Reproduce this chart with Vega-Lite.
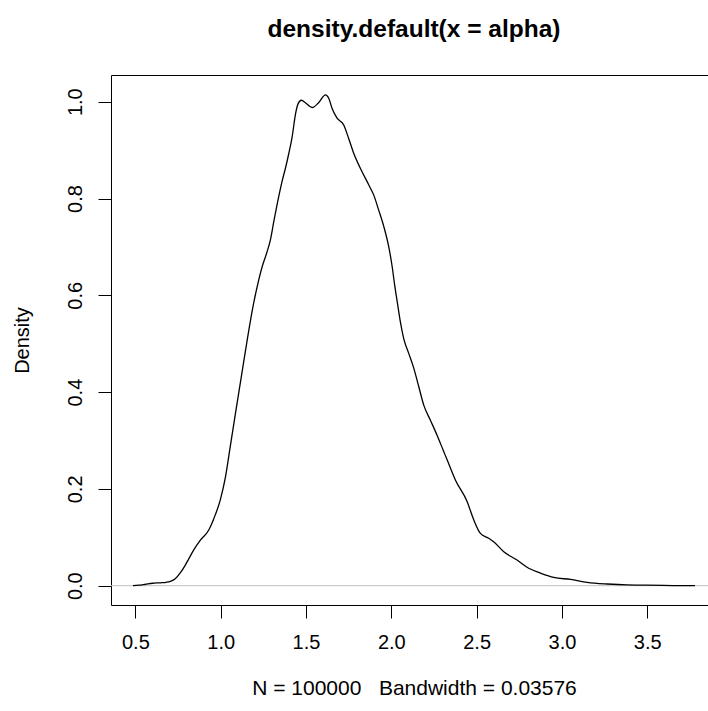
{
  "$schema": "https://vega.github.io/schema/vega-lite/v6.json",
  "width": 597,
  "height": 530,
  "autosize": {"type": "none"},
  "padding": {"left": 111, "top": 75, "right": 0, "bottom": 106},
  "background": "white",
  "config": {"view": {"stroke": null}, "font": "Liberation Sans"},
  "title": {
    "text": "density.default(x = alpha)",
    "font": "Liberation Sans",
    "fontSize": 24.5,
    "fontWeight": "bold",
    "color": "black",
    "anchor": "middle",
    "baseline": "alphabetic",
    "offset": 14,
    "dx": 4.5
  },
  "datasets": {
    "dens": [
      {"x": 0.486, "y": 0}, {"x": 0.52, "y": 0.001}, {"x": 0.56, "y": 0.003}, {"x": 0.6, "y": 0.005},
      {"x": 0.647, "y": 0.006}, {"x": 0.68, "y": 0.007}, {"x": 0.705, "y": 0.009}, {"x": 0.735, "y": 0.015},
      {"x": 0.764, "y": 0.027}, {"x": 0.79, "y": 0.041}, {"x": 0.812, "y": 0.055}, {"x": 0.842, "y": 0.074},
      {"x": 0.881, "y": 0.094}, {"x": 0.93, "y": 0.115}, {"x": 0.959, "y": 0.138}, {"x": 0.998, "y": 0.178},
      {"x": 1.028, "y": 0.225}, {"x": 1.057, "y": 0.29}, {"x": 1.086, "y": 0.355}, {"x": 1.12, "y": 0.43},
      {"x": 1.154, "y": 0.505}, {"x": 1.19, "y": 0.578}, {"x": 1.223, "y": 0.632},
      {"x": 1.243, "y": 0.659}, {"x": 1.27, "y": 0.688}, {"x": 1.291, "y": 0.714}, {"x": 1.311, "y": 0.752},
      {"x": 1.34, "y": 0.804}, {"x": 1.36, "y": 0.836}, {"x": 1.379, "y": 0.862}, {"x": 1.399, "y": 0.893},
      {"x": 1.419, "y": 0.928}, {"x": 1.438, "y": 0.974}, {"x": 1.454, "y": 0.996}, {"x": 1.473, "y": 1.003},
      {"x": 1.496, "y": 0.998}, {"x": 1.536, "y": 0.988}, {"x": 1.574, "y": 0.998}, {"x": 1.614, "y": 1.014},
      {"x": 1.633, "y": 1.007}, {"x": 1.653, "y": 0.986}, {"x": 1.682, "y": 0.966}, {"x": 1.721, "y": 0.952},
      {"x": 1.75, "y": 0.924}, {"x": 1.78, "y": 0.893}, {"x": 1.819, "y": 0.862}, {"x": 1.868, "y": 0.828},
      {"x": 1.897, "y": 0.807}, {"x": 1.926, "y": 0.776}, {"x": 1.956, "y": 0.742}, {"x": 1.985, "y": 0.7},
      {"x": 2.005, "y": 0.659}, {"x": 2.02, "y": 0.62}, {"x": 2.034, "y": 0.588}, {"x": 2.053, "y": 0.545},
      {"x": 2.073, "y": 0.51}, {"x": 2.102, "y": 0.48}, {"x": 2.131, "y": 0.45}, {"x": 2.161, "y": 0.411},
      {"x": 2.19, "y": 0.373}, {"x": 2.229, "y": 0.342}, {"x": 2.268, "y": 0.311}, {"x": 2.304, "y": 0.28},
      {"x": 2.327, "y": 0.26}, {"x": 2.376, "y": 0.218}, {"x": 2.444, "y": 0.174}, {"x": 2.483, "y": 0.136},
      {"x": 2.522, "y": 0.108}, {"x": 2.571, "y": 0.098}, {"x": 2.6, "y": 0.091}, {"x": 2.659, "y": 0.07},
      {"x": 2.737, "y": 0.053}, {"x": 2.805, "y": 0.036}, {"x": 2.874, "y": 0.026}, {"x": 2.952, "y": 0.017},
      {"x": 3.05, "y": 0.013}, {"x": 3.148, "y": 0.007}, {"x": 3.265, "y": 0.0035}, {"x": 3.382, "y": 0.0015},
      {"x": 3.499, "y": 0.001}, {"x": 3.65, "y": 0.0003}, {"x": 3.78, "y": 0}
    ]
  },
  "layer": [
    {
      "data": {"values": [{"y": 0}]},
      "mark": {"type": "rule", "color": "#BEBEBE", "strokeWidth": 1},
      "encoding": {
        "y": {"field": "y", "type": "quantitative", "scale": {"domain": [-0.0399, 1.0552], "nice": false, "zero": false}}
      }
    },
    {
      "data": {"name": "dens"},
      "mark": {"type": "line", "color": "black", "strokeWidth": 1.3, "interpolate": "monotone"},
      "encoding": {
        "x": {
          "field": "x", "type": "quantitative",
          "scale": {"domain": [0.357, 3.856], "nice": false, "zero": false},
          "axis": {
            "orient": "bottom",
            "values": [0.5, 1, 1.5, 2, 2.5, 3, 3.5],
            "format": ".1f",
            "grid": false,
            "tickSize": 13, "tickColor": "black", "tickWidth": 1,
            "domainColor": "black", "domainWidth": 1,
            "labelFont": "Liberation Sans", "labelFontSize": 20, "labelColor": "black",
            "labelPadding": 14, "labelBaseline": "top", "labelFlush": false,
            "title": "N = 100000\u00a0\u00a0\u00a0Bandwidth = 0.03576",
            "titleFont": "Liberation Sans", "titleFontSize": 21, "titleFontWeight": "normal", "titleColor": "black",
            "titleBaseline": "alphabetic", "titleX": 303, "titleY": 89, "titleAlign": "center", "titleAnchor": null
          }
        },
        "y": {
          "field": "y", "type": "quantitative",
          "scale": {"domain": [-0.0399, 1.0552], "nice": false, "zero": false},
          "axis": {
            "orient": "left",
            "values": [0, 0.2, 0.4, 0.6, 0.8, 1.0],
            "format": ".1f",
            "grid": false,
            "tickSize": 13, "tickColor": "black", "tickWidth": 1,
            "domainColor": "black", "domainWidth": 1,
            "labelFont": "Liberation Sans", "labelFontSize": 20, "labelColor": "black",
            "labelAngle": 270, "labelAlign": "center", "labelBaseline": "alphabetic", "labelPadding": 17, "labelFlush": false,
            "title": "Density",
            "titleFont": "Liberation Sans", "titleFontSize": 20, "titleFontWeight": "normal", "titleColor": "black",
            "titleAngle": 270, "titleBaseline": "alphabetic", "titleAlign": "center", "titleX": -82.5, "titleY": 265, "titleAnchor": null
          }
        }
      }
    },
    {
      "data": {"name": "dens"},
      "mark": {"type": "line", "opacity": 0},
      "encoding": {
        "x": {
          "field": "x", "type": "quantitative",
          "axis": {"orient": "top", "labels": false, "ticks": false, "grid": false, "title": null, "domainColor": "black", "domainWidth": 1}
        },
        "y": {"field": "y", "type": "quantitative"}
      }
    }
  ],
  "resolve": {"axis": {"x": "independent"}}
}
